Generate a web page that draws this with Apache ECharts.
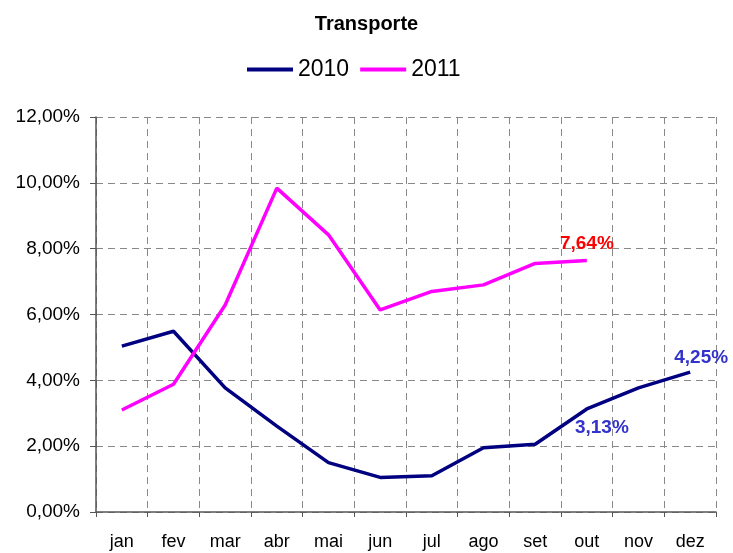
<!DOCTYPE html>
<html>
<head>
<meta charset="utf-8">
<script src="https://cdn.jsdelivr.net/npm/echarts@6/dist/echarts.min.js"></script>
<style>
  html, body { margin: 0; padding: 0; background: #fff; }
  #main { width: 733px; height: 553px; }
</style>
</head>
<body>
<div id="main"></div>
<script>
// meses
var months = ['jan', 'fev', 'mar', 'abr', 'mai', 'jun', 'jul', 'ago', 'set', 'out', 'nov', 'dez'];
// valores em %
var serie2010 = [5.04, 5.49, 3.77, 2.61, 1.50, 1.05, 1.10, 1.95, 2.06, 3.13, 3.77, 4.25];
var serie2011 = [3.10, 3.88, 6.29, 9.84, 8.42, 6.14, 6.70, 6.90, 7.55, 7.64, null, null];
var yTicks = [0, 2, 4, 6, 8, 10, 12];

var chart = echarts.init(document.getElementById('main'));
var font = 'Liberation Sans, Arial, sans-serif';

function fmt(v) {
  return v.toFixed(2).replace('.', ',') + '%';
}

// rótulos só em alguns pontos
var data2010 = serie2010.map(function (v, i) {
  if (i == 9) {
    return { value: v, label: { show: true, position: 'bottom', offset: [15, 4], color: '#3333cc' } };
  }
  if (i == 11) {
    return { value: v, label: { show: true, position: 'top', offset: [11, 0], color: '#3333cc' } };
  }
  return v;
});
var data2011 = serie2011.map(function (v, i) {
  if (i == 9) {
    return { value: v, label: { show: true, position: 'top', offset: [0, -2], color: '#ff0000' } };
  }
  return v;
});

var lbl = {
  show: false,
  fontFamily: font,
  fontSize: 19,
  fontWeight: 'bold',
  formatter: function (p) { return fmt(p.value); }
};

var option = {
  animation: false,
  title: {
    text: 'Transporte',
    left: 'center',
    top: 9,
    textStyle: { fontFamily: font, fontSize: 20, fontWeight: 'bold', color: '#000' }
  },
  legend: {
    top: 53,
    left: 242,
    icon: 'rect',
    itemWidth: 46,
    itemHeight: 4,
    itemGap: 11,
    textStyle: { fontFamily: font, fontSize: 23, color: '#000' },
    data: ['2010', '2011']
  },
  grid: { left: 96, right: 17, top: 117, bottom: 41 },
  xAxis: {
    type: 'category',
    data: months,
    boundaryGap: true,
    axisLine: { lineStyle: { color: '#555', width: 1.5 } },
    axisTick: { show: true, length: 5, lineStyle: { color: '#555' } },
    axisLabel: { fontFamily: font, fontSize: 18, color: '#000', margin: 21 },
    splitLine: { show: true, lineStyle: { color: '#888', type: [7, 5] } }
  },
  yAxis: {
    type: 'value',
    min: yTicks[0],
    max: yTicks[yTicks.length - 1],
    interval: 2,
    axisLine: { show: true, lineStyle: { color: '#555', width: 1.5 } },
    axisTick: { show: true, length: 6, lineStyle: { color: '#555' } },
    axisLabel: { fontFamily: font, fontSize: 19, color: '#000', margin: 16, formatter: fmt },
    splitLine: { show: true, lineStyle: { color: '#888', type: [7, 5] } }
  },
  series: [
    {
      name: '2010',
      type: 'line',
      data: data2010,
      symbol: 'circle',
      symbolSize: 0,
      showSymbol: true,
      color: '#000080',
      lineStyle: { width: 3.5, color: '#000080' },
      label: lbl
    },
    {
      name: '2011',
      type: 'line',
      data: data2011,
      symbol: 'circle',
      symbolSize: 0,
      showSymbol: true,
      color: '#ff00ff',
      lineStyle: { width: 3.5, color: '#ff00ff' },
      label: lbl
    }
  ]
};
chart.setOption(option);
</script>
</body>
</html>
